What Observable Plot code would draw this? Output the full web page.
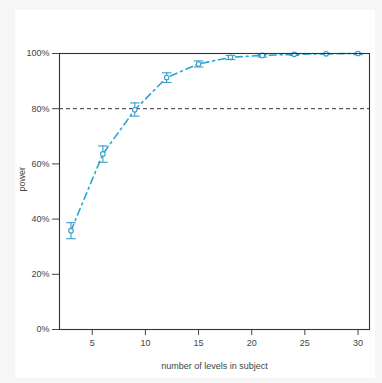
<!DOCTYPE html>
<html>
<head>
<meta charset="utf-8">
<script src="https://cdn.jsdelivr.net/npm/d3@7"></script>
<script src="https://cdn.jsdelivr.net/npm/@observablehq/plot@0.6"></script>
<style>
  html, body { margin: 0; padding: 0; background: #f6f6f6; }
  #wrap { position: relative; width: 382px; height: 383px; overflow: hidden; }
  #panel { position: absolute; left: 15px; top: 10px; width: 360px; height: 368px; background: #ffffff; }
  #chart { position: absolute; left: 0; top: 0; }
  #chart svg { background: transparent; }
</style>
</head>
<body>
<div id="wrap"><div id="panel"></div><div id="chart"></div></div>
<script>
const levels = [3, 6, 9, 12, 15, 18, 21, 24, 27, 30];
const power  = [0.358, 0.636, 0.796, 0.913, 0.962, 0.986, 0.993, 0.997, 0.999, 1.0];
const lower  = [0.329, 0.606, 0.773, 0.895, 0.951, 0.978, 0.987, 0.993, 0.997, 0.996];
const upper  = [0.387, 0.665, 0.821, 0.930, 0.973, 0.993, 0.997, 0.999, 1.0, 1.0];
const xTicks = [5, 10, 15, 20, 25, 30];
const yTicks = [0, 0.2, 0.4, 0.6, 0.8, 1.0];
const threshold = [0.8];

const data = levels.map((x, i) => ({x, y: power[i], lo: lower[i], hi: upper[i]}));
const lineColor = "#2aa6d6";
const barColor = "#3a9cc4";
const capHalf = 0.45;

const chart = Plot.plot({
  width: 382,
  height: 383,
  marginLeft: 59,
  marginRight: 13,
  marginTop: 53,
  marginBottom: 54,
  style: {fontFamily: "'Liberation Sans', Arial, sans-serif", fontSize: "9px", color: "#444", background: "transparent"},
  x: {domain: [1.92, 31.08], ticks: xTicks, tickSize: 6, tickPadding: 4, label: null, line: false},
  y: {domain: [0, 1], ticks: yTicks, tickFormat: d => Math.round(d * 100) + "%", tickSize: 7, tickPadding: 3, label: null},
  marks: [
    Plot.ruleY(threshold, {stroke: "#333", strokeDasharray: "4,3", strokeWidth: 1}),
    Plot.line(data, {x: "x", y: "y", stroke: lineColor, strokeWidth: 1.6, strokeDasharray: "7,4,2,4"}),
    Plot.ruleX(data, {x: "x", y1: "lo", y2: "hi", stroke: barColor, strokeWidth: 1.1}),
    Plot.link(data, {x1: d => d.x - capHalf, x2: d => d.x + capHalf, y1: "lo", y2: "lo", stroke: barColor, strokeWidth: 1.1}),
    Plot.link(data, {x1: d => d.x - capHalf, x2: d => d.x + capHalf, y1: "hi", y2: "hi", stroke: barColor, strokeWidth: 1.1}),
    Plot.dot(data, {x: "x", y: "y", r: 2.3, stroke: barColor, strokeWidth: 1.1, fill: "white"}),
    Plot.frame({stroke: "#333", strokeWidth: 1.1}),
    Plot.text(["power"], {frameAnchor: "left", dx: -37, rotate: -90, fill: "#444", fontSize: 9}),
    Plot.text(["number of levels in subject"], {frameAnchor: "bottom", dy: 39, fill: "#444", fontSize: 9})
  ]
});
document.getElementById("chart").appendChild(chart);
</script>
</body>
</html>
